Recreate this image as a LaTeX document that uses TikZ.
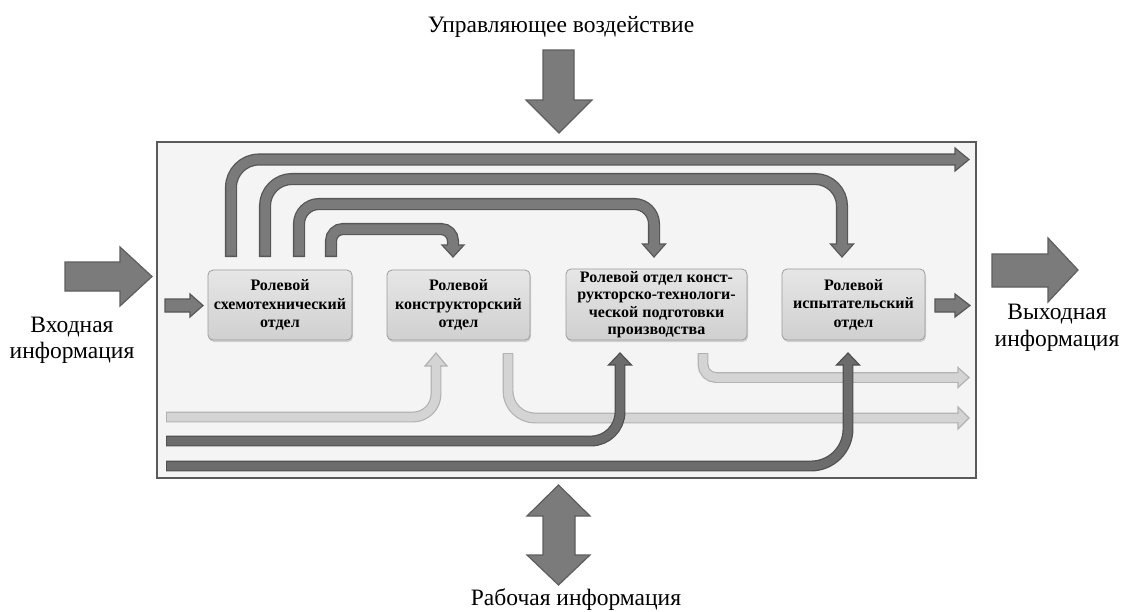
\documentclass[tikz,border=0pt]{standalone}
\usepackage{fontspec}
\setmainfont{Liberation Serif}
\usetikzlibrary{calc,shadows}
\definecolor{frameF}{HTML}{F4F4F4}
\definecolor{frameD}{HTML}{5A5A5A}
\definecolor{dkF}{HTML}{7A7A7A}
\definecolor{dkD}{HTML}{575757}
\definecolor{loF}{HTML}{6C6C6C}
\definecolor{loD}{HTML}{505050}
\definecolor{ltF}{HTML}{D4D4D4}
\definecolor{ltD}{HTML}{B2B2B2}
\definecolor{boxT}{HTML}{E6E6E6}
\definecolor{boxB}{HTML}{D0D0D0}
\definecolor{boxD}{HTML}{9C9C9C}
\definecolor{bigF}{HTML}{7B7B7B}
\definecolor{bigD}{HTML}{5E5E5E}
% tips: #1 base point, #2 half width, #3 length, #4 fill, #5 border, #6 inner shaft width
\newcommand{\tipD}[6]{%
  \filldraw[fill=#4,draw=#5,line width=1.2pt,line join=miter] ($(#1)+(-#2,0)$) -- ($(#1)+(0,#3)$) -- ($(#1)+(#2,0)$) -- cycle;
  \draw[#4,line width=#6] ($(#1)+(0,-1)$) -- ($(#1)+(0,1.5)$);}
\newcommand{\tipU}[6]{%
  \filldraw[fill=#4,draw=#5,line width=1.2pt,line join=miter] ($(#1)+(-#2,0)$) -- ($(#1)+(0,-#3)$) -- ($(#1)+(#2,0)$) -- cycle;
  \draw[#4,line width=#6] ($(#1)+(0,1)$) -- ($(#1)+(0,-1.5)$);}
\newcommand{\tipR}[6]{%
  \filldraw[fill=#4,draw=#5,line width=1.2pt,line join=miter] ($(#1)+(0,-#2)$) -- ($(#1)+(#3,0)$) -- ($(#1)+(0,#2)$) -- cycle;
  \draw[#4,line width=#6] ($(#1)+(-1,0)$) -- ($(#1)+(1.5,0)$);}
% shaft: #1 outer style, #2 inner style, #3 path
\newcommand{\shaft}[3]{\draw[#1] #3; \draw[#2] #3;}
\begin{document}
\begin{tikzpicture}[x=1pt,y=-1pt,
  frame/.style={draw=frameD,line width=2pt,fill=frameF,minimum width=819pt,minimum height=336pt,inner sep=0pt},
  rolebox/.style={draw=boxD,line width=0.8pt,rounded corners=5pt,top color=boxT,bottom color=boxB,
    align=center,inner sep=1pt,font=\fontsize{16}{18.5}\selectfont\bfseries,
    drop shadow={shadow xshift=1pt,shadow yshift=-2pt,opacity=0.3}},
  outtext/.style={font=\fontsize{23.5}{26.5}\selectfont,align=center,inner sep=0pt},
  dkout/.style={dkD,line width=12.1pt},
  dkin/.style={dkF,line width=9.5pt,shorten <=1.3pt},
  loout/.style={loD,line width=10.9pt},
  loin/.style={loF,line width=8.5pt,shorten <=1.2pt},
  ltout/.style={ltD,line width=10.9pt},
  ltin/.style={ltF,line width=8.5pt,shorten <=1.2pt},
  bigarrow/.style={fill=bigF,draw=bigD,line width=1.2pt,line join=miter}
]
\useasboundingbox (0,0) rectangle (1124,611);

% texts
\node[outtext,anchor=base] (tUpr) at (561,32) {Управляющее воздействие};
\node[outtext,anchor=north] (tIn) at (72,316.5) {Входная\\информация};
\node[outtext,anchor=north] (tOut) at (1057,304) {Выходная\\информация};
\node[outtext,anchor=base] (tWork) at (576,605) {Рабочая информация};

% big block arrows
\filldraw[bigarrow] (543,50) -- (574,50) -- (574,100) -- (592,100) -- (559,133) -- (526,100) -- (543,100) -- cycle;
\filldraw[bigarrow] (65,262) -- (120,262) -- (120,247) -- (152,276.5) -- (120,306) -- (120,291) -- (65,291) -- cycle;
\filldraw[bigarrow] (992,254) -- (1048,254) -- (1048,238) -- (1078,270) -- (1048,302) -- (1048,287) -- (992,287) -- cycle;
\filldraw[bigarrow] (558.5,485) -- (590,516) -- (575,516) -- (575,555) -- (590,555) -- (558.5,585) -- (527,555) -- (543,555) -- (543,516) -- (527,516) -- cycle;

% frame
\node[frame] (frame) at (566.5,310) {};

% boxes
\node[rolebox,minimum width=144pt,minimum height=70pt] (b1) at (280,305) {Ролевой\\схемотехнический\\отдел};
\node[rolebox,minimum width=143pt,minimum height=70pt] (b2) at (458.5,305) {Ролевой\\конструкторский\\отдел};
\node[rolebox,minimum width=181pt,minimum height=71pt,font=\fontsize{16}{17.5}\selectfont\bfseries] (b3) at (656.5,304.5) {Ролевой отдел конст-\\рукторско-технологи-\\ческой подготовки\\производства};
\node[rolebox,minimum width=143pt,minimum height=71pt] (b4) at (853.5,304.5) {Ролевой\\испытательский\\отдел};

% small in/out arrows
\filldraw[fill=dkF,draw=dkD,line width=1.2pt,line join=miter] (165,299) -- (190,299) -- (190,294) -- (203,305.5) -- (190,317) -- (190,312) -- (165,312) -- cycle;
\filldraw[fill=dkF,draw=dkD,line width=1.2pt,line join=miter] (935,299) -- (955,299) -- (955,294) -- (970,305.5) -- (955,317) -- (955,312) -- (935,312) -- cycle;

% top connectors from b1
\coordinate (a1s) at (231,257); \coordinate (a1e) at (955,159.5);
\shaft{dkout,rounded corners=28pt}{dkin,rounded corners=28pt}{(a1s) -- (231,159.5) -- (a1e)}
\tipR{a1e}{11.5}{14}{dkF}{dkD}{9.5pt}
\coordinate (a2s) at (265,257); \coordinate (a2e) at (842,244);
\shaft{dkout,rounded corners=27pt}{dkin,rounded corners=27pt}{(a2s) -- (265,179) -- (842,179) -- (a2e)}
\tipD{a2e}{11.5}{13}{dkF}{dkD}{9.5pt}
\coordinate (a3s) at (299,257); \coordinate (a3e) at (654,244);
\shaft{dkout,rounded corners=20pt}{dkin,rounded corners=20pt}{(a3s) -- (299,204) -- (654,204) -- (a3e)}
\tipD{a3e}{11.5}{13}{dkF}{dkD}{9.5pt}
\coordinate (a4s) at (331,257); \coordinate (a4e) at (453,245);
\shaft{dkout,rounded corners=12pt}{dkin,rounded corners=12pt}{(a4s) -- (331,229) -- (453,229) -- (a4e)}
\tipD{a4e}{11}{12}{dkF}{dkD}{9.5pt}

% light bottom connectors
\coordinate (e1s) at (166,417); \coordinate (e1e) at (436,366);
\shaft{ltout,rounded corners=23pt}{ltin,rounded corners=23pt}{(e1s) -- (436,417) -- (e1e)}
\tipU{e1e}{11}{13}{ltF}{ltD}{8.5pt}
\coordinate (f1s) at (508,353); \coordinate (f1e) at (958,418);
\shaft{ltout,rounded corners=27pt}{ltin,rounded corners=27pt}{(f1s) -- (508,418) -- (f1e)}
\tipR{f1e}{11}{11}{ltF}{ltD}{8.5pt}
\coordinate (g1s) at (703,353); \coordinate (g1e) at (958,377.5);
\shaft{ltout,rounded corners=13pt}{ltin,rounded corners=13pt}{(g1s) -- (703,377.5) -- (g1e)}
\tipR{g1e}{10}{11}{ltF}{ltD}{8.5pt}

% dark bottom connectors
\coordinate (h1s) at (166,441); \coordinate (h1e) at (620,365);
\shaft{loout,rounded corners=29pt}{loin,rounded corners=29pt}{(h1s) -- (620,441) -- (h1e)}
\tipU{h1e}{11.5}{12}{loF}{loD}{8.5pt}
\coordinate (i1s) at (166,466); \coordinate (i1e) at (848,365);
\shaft{loout,rounded corners=37pt}{loin,rounded corners=37pt}{(i1s) -- (848,466) -- (i1e)}
\tipU{i1e}{11.5}{12}{loF}{loD}{8.5pt}
\end{tikzpicture}
\end{document}
